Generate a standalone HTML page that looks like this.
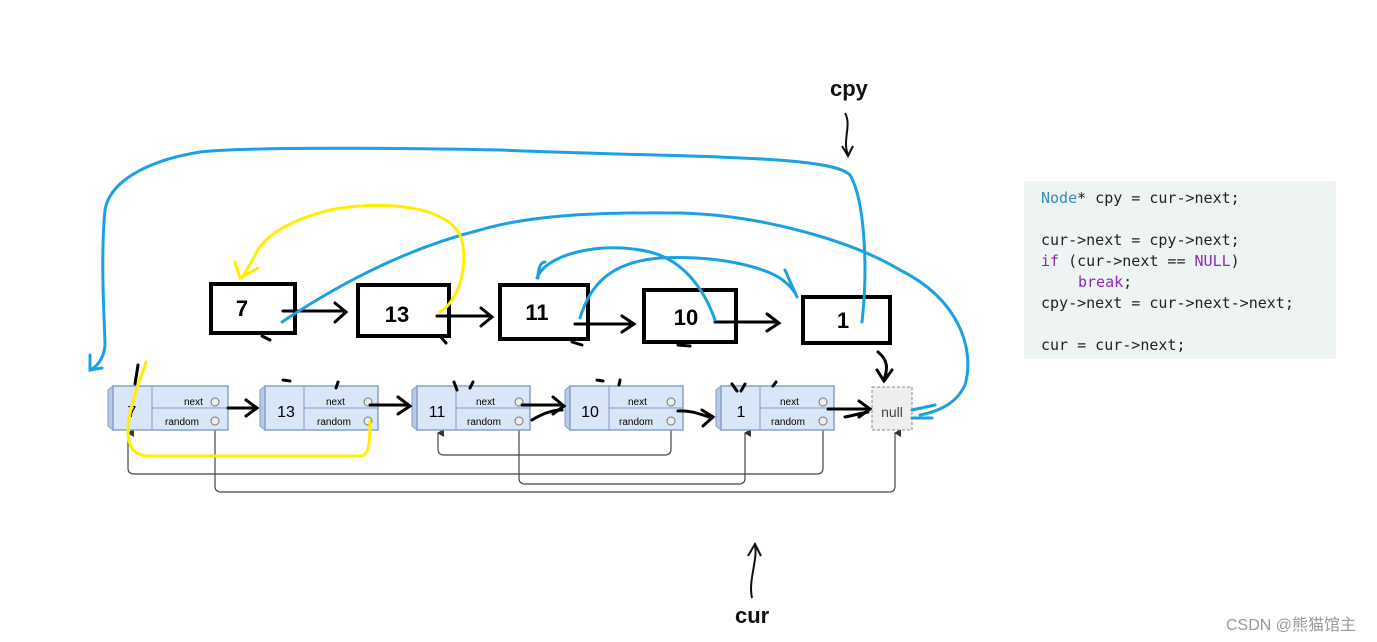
<!DOCTYPE html>
<html><head><meta charset="utf-8"><style>
body{margin:0;background:#fff;width:1377px;height:642px;overflow:hidden}
svg{display:block}
</style></head><body>
<svg width="1377" height="642" viewBox="0 0 1377 642" xmlns="http://www.w3.org/2000/svg">
<defs>
<marker id="ga" markerWidth="8" markerHeight="8" refX="4" refY="1" orient="auto-start-reverse" markerUnits="userSpaceOnUse"><path d="M0,7 L4,0 L8,7 Z" fill="#333"/></marker>
</defs>
<rect x="1024" y="181" width="312" height="178" fill="#eef4f4"/>
<g font-family="'DejaVu Sans Mono','Liberation Mono',monospace" font-size="15" fill="#222">
<text x="1041" y="203"><tspan fill="#3a8bb5">Node</tspan>* cpy = cur-&gt;next;</text>
<text x="1041" y="245">cur-&gt;next = cpy-&gt;next;</text>
<text x="1041" y="266"><tspan fill="#8a2bb8">if</tspan> (cur-&gt;next == <tspan fill="#8a2bb8">NULL</tspan>)</text>
<text x="1078" y="287" fill="#8a2bb8">break<tspan fill="#222">;</tspan></text>
<text x="1041" y="308">cpy-&gt;next = cur-&gt;next-&gt;next;</text>
<text x="1041" y="350">cur = cur-&gt;next;</text>
</g>
<text x="1226" y="630" font-family="'Liberation Sans','Noto Sans CJK SC',sans-serif" font-size="16" fill="#999">CSDN @熊猫馆主</text>
<text x="830" y="96" font-family="'Liberation Sans',sans-serif" font-weight="bold" font-size="22" fill="#111">cpy</text>
<text x="735" y="623" font-family="'Liberation Sans',sans-serif" font-weight="bold" font-size="22" fill="#111">cur</text>
<path d="M845,113 C852,125 842,140 848,155 M842,146 L848,156 L853,146" stroke="#111" stroke-width="2" fill="none"/>
<path d="M752,598 C748,580 758,560 755,545 M748,556 L755,544 L761,556" stroke="#111" stroke-width="2" fill="none"/>
<g stroke="#444" stroke-width="1.2" fill="none">
<path d="M215,421 V486 Q215,492 221,492 H889 Q895,492 895,486 V433" marker-end="url(#ga)"/>
<path d="M823,421 V468 Q823,474 817,474 H134 Q128,474 128,468 V433" marker-end="url(#ga)"/>
<path d="M519,421 V478 Q519,484 525,484 H739 Q745,484 745,478 V433" marker-end="url(#ga)"/>
<path d="M671,421 V449 Q671,455 665,455 H444 Q438,455 438,449 V433" marker-end="url(#ga)"/>
</g>
<g font-family="'Liberation Sans',sans-serif">
<g transform="translate(108,386)">
<path d="M0,4 L5,0 V44 L0,40 Z" fill="#b7c9e4" stroke="#7f9cc9"/>
<rect x="5" y="0" width="115" height="44" fill="#d8e6f8" stroke="#7f9cc9" stroke-width="1.4"/>
<line x1="44" y1="0" x2="44" y2="44" stroke="#7f9cc9"/><line x1="44" y1="22" x2="120" y2="22" stroke="#7f9cc9"/>
<text x="24" y="31" font-size="16" text-anchor="middle">7</text>
<text x="76" y="19" font-size="10">next</text><text x="57" y="39" font-size="10">random</text>
<circle cx="107" cy="16" r="4" fill="#eee" stroke="#777"/><circle cx="107" cy="35" r="4" fill="#eee" stroke="#777"/>
</g>
<g transform="translate(260,386)">
<path d="M0,4 L5,0 V44 L0,40 Z" fill="#b7c9e4" stroke="#7f9cc9"/>
<rect x="5" y="0" width="113" height="44" fill="#d8e6f8" stroke="#7f9cc9" stroke-width="1.4"/>
<line x1="44" y1="0" x2="44" y2="44" stroke="#7f9cc9"/><line x1="44" y1="22" x2="118" y2="22" stroke="#7f9cc9"/>
<text x="26" y="31" font-size="16" text-anchor="middle">13</text>
<text x="66" y="19" font-size="10">next</text><text x="57" y="39" font-size="10">random</text>
<circle cx="108" cy="16" r="4" fill="#eee" stroke="#777"/><circle cx="108" cy="35" r="4" fill="#eee" stroke="#777"/>
</g>
<g transform="translate(412,386)">
<path d="M0,4 L5,0 V44 L0,40 Z" fill="#b7c9e4" stroke="#7f9cc9"/>
<rect x="5" y="0" width="113" height="44" fill="#d8e6f8" stroke="#7f9cc9" stroke-width="1.4"/>
<line x1="44" y1="0" x2="44" y2="44" stroke="#7f9cc9"/><line x1="44" y1="22" x2="118" y2="22" stroke="#7f9cc9"/>
<text x="25" y="31" font-size="16" text-anchor="middle">11</text>
<text x="64" y="19" font-size="10">next</text><text x="55" y="39" font-size="10">random</text>
<circle cx="107" cy="16" r="4" fill="#eee" stroke="#777"/><circle cx="107" cy="35" r="4" fill="#eee" stroke="#777"/>
</g>
<g transform="translate(565,386)">
<path d="M0,4 L5,0 V44 L0,40 Z" fill="#b7c9e4" stroke="#7f9cc9"/>
<rect x="5" y="0" width="113" height="44" fill="#d8e6f8" stroke="#7f9cc9" stroke-width="1.4"/>
<line x1="44" y1="0" x2="44" y2="44" stroke="#7f9cc9"/><line x1="44" y1="22" x2="118" y2="22" stroke="#7f9cc9"/>
<text x="25" y="31" font-size="16" text-anchor="middle">10</text>
<text x="63" y="19" font-size="10">next</text><text x="54" y="39" font-size="10">random</text>
<circle cx="106" cy="16" r="4" fill="#eee" stroke="#777"/><circle cx="106" cy="35" r="4" fill="#eee" stroke="#777"/>
</g>
<g transform="translate(716,386)">
<path d="M0,4 L5,0 V44 L0,40 Z" fill="#b7c9e4" stroke="#7f9cc9"/>
<rect x="5" y="0" width="113" height="44" fill="#d8e6f8" stroke="#7f9cc9" stroke-width="1.4"/>
<line x1="44" y1="0" x2="44" y2="44" stroke="#7f9cc9"/><line x1="44" y1="22" x2="118" y2="22" stroke="#7f9cc9"/>
<text x="25" y="31" font-size="16" text-anchor="middle">1</text>
<text x="64" y="19" font-size="10">next</text><text x="55" y="39" font-size="10">random</text>
<circle cx="107" cy="16" r="4" fill="#eee" stroke="#777"/><circle cx="107" cy="35" r="4" fill="#eee" stroke="#777"/>
</g>
<rect x="872" y="387" width="40" height="43" fill="#eee" stroke="#888" stroke-dasharray="3,2"/>
<text x="892" y="417" font-size="14" text-anchor="middle" fill="#444">null</text>
</g>
<g fill="#fff" stroke="#000" stroke-width="4">
<rect x="211" y="284" width="84" height="49"/>
<rect x="358" y="285" width="91" height="51"/>
<rect x="500" y="285" width="88" height="54"/>
<rect x="644" y="290" width="92" height="52"/>
<rect x="803" y="297" width="87" height="46"/>
</g>
<g font-family="'Liberation Sans',sans-serif" font-weight="bold" font-size="22" fill="#000" text-anchor="middle">
<text x="242" y="316">7</text><text x="397" y="322">13</text><text x="537" y="320">11</text><text x="686" y="325">10</text><text x="843" y="328">1</text>
</g>
<g stroke="#000" stroke-width="3" fill="none" stroke-linecap="round">
<path d="M283,311 H345 M335,303 L346,312 L335,322"/>
<path d="M437,316 H490 M481,308 L492,317 L481,326"/>
<path d="M575,324 H632 M622,316 L634,324 L622,332"/>
<path d="M715,322 H777 M767,314 L779,323 L767,331"/>
<path d="M878,352 C888,360 888,368 884,380 M877,370 L884,381 L892,370"/>
<path d="M228,408 H256 M246,400 L257,408 L246,416"/>
<path d="M370,405 H408 M398,397 L410,406 L398,414"/>
<path d="M522,405 H562 M553,397 L564,406 L553,414"/>
<path d="M532,420 C545,412 555,410 562,410"/>
<path d="M678,411 C690,410 700,414 712,418 M702,410 L713,417 L703,426"/>
<path d="M828,409 H868 M859,401 L870,409 L859,417"/>
<path d="M845,417 C855,415 862,413 868,412"/>
<path d="M262,336 L270,340 M440,336 L446,343 M572,342 L582,345 M678,345 L690,346"/>
<path d="M138,365 L135,384 M283,380 L290,381 M338,382 L336,388 M454,382 L457,390 M473,382 L470,388 M597,380 L603,381 M620,380 L619,385 M732,384 L737,391 M745,384 L741,391 M776,382 L773,386"/>
</g>
<g stroke="#1ba1e2" stroke-width="3" fill="none" stroke-linecap="round">
<path d="M862,322 C868,270 865,200 850,175 C830,155 700,158 500,150 C350,147 230,148 200,152 C150,160 110,180 105,210 C100,260 105,330 105,345 C104,360 95,368 90,370 M90,355 L90,370 L102,368"/>
<path d="M282,322 C330,290 400,250 480,230 C530,215 600,212 680,213 C760,215 850,240 900,270 C960,300 975,350 965,385 C958,400 945,410 920,415 M912,410 L935,405 M912,418 L932,418"/>
<path d="M537,278 C545,255 600,240 650,252 C690,262 708,300 715,320"/>
<path d="M545,262 C540,262 538,270 538,278"/>
<path d="M580,318 C590,285 610,262 660,258 C720,255 770,268 785,282 C795,290 797,297 797,297 M785,270 L797,297"/>
</g>
<g stroke="#ffee00" stroke-width="3" fill="none" stroke-linecap="round">
<path d="M440,312 C460,300 470,260 460,235 C445,205 380,200 330,210 C290,220 265,235 255,255 C250,265 245,272 242,278 M235,262 L240,278 L258,268"/>
<path d="M146,362 C140,380 128,410 128,430 C128,445 132,456 150,456 H360 C368,456 370,448 370,421"/>
</g>
</svg>
</body></html>
